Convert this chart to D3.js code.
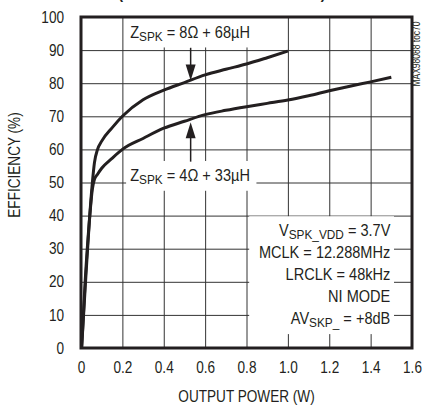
<!DOCTYPE html>
<html>
<head>
<meta charset="utf-8">
<script src="https://cdn.jsdelivr.net/npm/d3@7"></script>
<style>
  body { margin: 0; background: #fff; }
  svg { display: block; }
  text {
    font-family: "Liberation Sans", Arial, sans-serif;
    fill: #231f20;
    transform-box: fill-box;
    transform: scaleX(0.85);
    transform-origin: center;
  }
  text.start { transform-origin: left center; }
  text.end { transform-origin: right center; }
  text.note { transform: scaleX(0.91); }
</style>
</head>
<body>
<div id="chart"></div>
<script>
// values
const xTicks = [0, 0.2, 0.4, 0.6, 0.8, 1.0, 1.2, 1.4, 1.6];
const xTickLabels = ["0", "0.2", "0.4", "0.6", "0.8", "1.0", "1.2", "1.4", "1.6"];
const yTicks = [0, 10, 20, 30, 40, 50, 60, 70, 80, 90, 100];

const power8 = [0.003, 0.02, 0.04, 0.055, 0.065, 0.08, 0.1, 0.15, 0.2, 0.3, 0.4, 0.5, 0.6, 0.7, 0.8, 0.9, 1.0];
const eff8   = [0, 18, 38, 50, 56, 60, 62.5, 66.5, 70, 75, 77.9, 80.2, 82.5, 84.2, 85.8, 87.7, 89.7];

const power4 = [0.003, 0.02, 0.04, 0.055, 0.065, 0.08, 0.1, 0.15, 0.2, 0.3, 0.4, 0.5, 0.6, 0.7, 0.8, 0.9, 1.0, 1.1, 1.2, 1.3, 1.4, 1.5];
const eff4   = [0, 20, 38, 48, 51, 52.5, 54.3, 57.3, 60, 63.3, 66.4, 68.5, 70.5, 71.8, 72.9, 73.9, 74.9, 76.2, 77.7, 79.1, 80.4, 81.8];

const conditions = [
  ["V", "SPK_VDD", " = 3.7V"],
  ["MCLK = 12.288MHz", "", ""],
  ["LRCLK = 48kHz", "", ""],
  ["NI MODE", "", ""],
  ["AV", "SKP_", " = +8dB"]
];

const width = 425, height = 409;
const margin = { top: 17, right: 13, bottom: 61, left: 81 };
const w = width - margin.left - margin.right;
const h = height - margin.top - margin.bottom;

const svg = d3.select("#chart").append("svg")
  .attr("width", width)
  .attr("height", height);

// title, mostly cut off above the picture
svg.append("text")
  .attr("x", 222).attr("y", -1)
  .attr("text-anchor", "middle")
  .attr("textLength", 244)
  .style("font-size", "17px").style("font-weight", "bold")
  .text("(SPEAKER MODE)");

const g = svg.append("g").attr("transform", `translate(${margin.left},${margin.top})`);

const x = d3.scaleLinear().domain([0, 1.6]).range([0, w]);
const y = d3.scaleLinear().domain([0, 100]).range([h, 0]);

// grid
g.append("g").attr("class", "grid")
  .attr("transform", `translate(0,${h})`)
  .call(d3.axisBottom(x).tickValues(xTicks).tickSize(-h).tickFormat(""))
  .call(a => a.select(".domain").remove())
  .call(a => a.selectAll("line").attr("stroke", "#333").attr("stroke-width", 1));
g.append("g").attr("class", "grid")
  .call(d3.axisLeft(y).tickValues(yTicks).tickSize(-w).tickFormat(""))
  .call(a => a.select(".domain").remove())
  .call(a => a.selectAll("line").attr("stroke", "#333").attr("stroke-width", 1));

// tick labels
g.append("g")
  .attr("transform", `translate(0,${h})`)
  .call(d3.axisBottom(x).tickValues(xTicks).tickSize(0).tickPadding(14)
    .tickFormat((d, i) => xTickLabels[i]))
  .call(a => a.select(".domain").remove())
  .call(a => a.selectAll("text").style("font-size", "16px").attr("fill", "#231f20"));
g.append("g")
  .call(d3.axisLeft(y).tickValues(yTicks).tickSize(0).tickPadding(17))
  .call(a => a.select(".domain").remove())
  .call(a => a.selectAll("text").classed("end", true).style("font-size", "16px").attr("fill", "#231f20"));

// axis titles
svg.append("text")
  .attr("x", margin.left + w / 2).attr("y", 402)
  .attr("text-anchor", "middle")
  .style("font-size", "16px")
  .text("OUTPUT POWER (W)");
svg.append("g")
  .attr("transform", "translate(20,165) rotate(-90)")
  .append("text")
  .attr("text-anchor", "middle")
  .style("font-size", "16px")
  .text("EFFICIENCY (%)");

// white boxes behind labels
g.append("rect").attr("x", x(0.218)).attr("y", 0).attr("width", x(0.63) - x(0)).attr("height", y(90.8))
  .attr("fill", "#fff");
g.append("rect").attr("x", x(0.218)).attr("y", y(56.5)).attr("width", x(0.63) - x(0)).attr("height", y(47.5) - y(56.5))
  .attr("fill", "#fff");
g.append("rect").attr("x", x(0.813)).attr("y", y(39.8)).attr("width", x(0.7) - x(0)).attr("height", y(4.2) - y(39.8))
  .attr("fill", "#fff");

// curves
const line = d3.line()
  .x(d => x(d[0]))
  .y(d => y(d[1]))
  .curve(d3.curveMonotoneX);

[[power8, eff8], [power4, eff4]].forEach(function (s) {
  g.append("path")
    .datum(d3.zip(s[0], s[1]))
    .attr("d", line)
    .attr("fill", "none")
    .attr("stroke", "#231f20")
    .attr("stroke-width", 3)
    .attr("stroke-linejoin", "round");
});

// label text with subscripts
function label(parent, px, py, parts, anchor) {
  const t = parent.append("text")
    .attr("x", px).attr("y", py)
    .attr("text-anchor", anchor)
    .classed(anchor, true)
    .classed("note", true)
    .style("font-size", "16px");
  t.append("tspan").text(parts[0]);
  if (parts[1]) t.append("tspan").attr("dy", 3).style("font-size", "13px").text(parts[1]);
  if (parts[2]) t.append("tspan").attr("dy", -3).text(parts[2]);
  return t;
}

label(g, x(0.238), y(93.7), ["Z", "SPK", " = 8Ω + 68µH"], "start");
label(g, x(0.238), y(50.6), ["Z", "SPK", " = 4Ω + 33µH"], "start");

conditions.forEach(function (c, i) {
  label(g, x(1.495), y(33.7) + i * 21.8, c, "end");
});

// arrows (pixel based direction)
const ax = x(0.53);
function arrow(yFrom, yTip) {
  const p0 = y(yFrom), p1 = y(yTip);
  const dir = p1 > p0 ? 1 : -1;
  g.append("line")
    .attr("x1", ax).attr("x2", ax)
    .attr("y1", p0).attr("y2", p1 - dir * 14)
    .attr("stroke", "#231f20").attr("stroke-width", 1.5);
  g.append("path")
    .attr("d", `M${ax - 5},${p1 - dir * 16} L${ax + 5},${p1 - dir * 16} L${ax},${p1} Z`)
    .attr("fill", "#231f20");
}
arrow(90.7, 80.8);
arrow(56.3, 68.2);

// frame
g.append("rect")
  .attr("x", 0).attr("y", 0).attr("width", w).attr("height", h)
  .attr("fill", "none").attr("stroke", "#231f20").attr("stroke-width", 3);

// part number tag
svg.append("g")
  .attr("transform", "translate(420,54) rotate(-90)")
  .append("text")
  .attr("text-anchor", "middle")
  .style("font-size", "10px")
  .attr("fill", "#444")
  .text("MAX98088 toc70");
</script>
</body>
</html>
